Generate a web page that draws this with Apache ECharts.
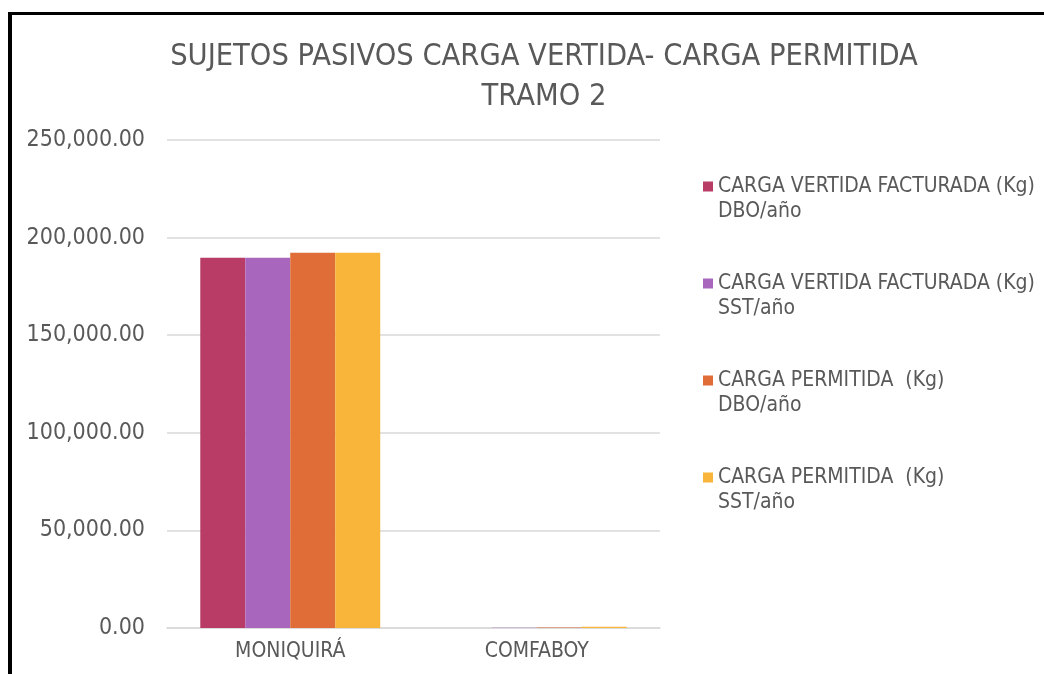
<!DOCTYPE html>
<html>
<head>
<meta charset="utf-8">
<script src="https://cdn.jsdelivr.net/npm/echarts@6/dist/echarts.min.js"></script>
<style>
  html, body { margin: 0; padding: 0; background: #fff; }
  #chart { width: 1044px; height: 674px; }
  #frame { position: absolute; left: 8px; top: 12px; width: 1100px; height: 700px; border-left: 4px solid #000; border-top: 3px solid #000; pointer-events: none; }
</style>
</head>
<body>
<div id="chart"></div>
<div id="frame"></div>
<script>
// categorias y valores
const categories = ['MONIQUIRÁ', 'COMFABOY'];
const seriesNames = [
  'CARGA VERTIDA FACTURADA (Kg)\nDBO/año',
  'CARGA VERTIDA FACTURADA (Kg)\nSST/año',
  'CARGA PERMITIDA  (Kg)\nDBO/año',
  'CARGA PERMITIDA  (Kg)\nSST/año'
];
const vertidaDBO = [189700, 60];
const vertidaSST = [189700, 80];
const permitidaDBO = [192300, 300];
const permitidaSST = [192300, 600];
const colors = ['#b83c65', '#a966bd', '#e06d37', '#f8b53a'];

var myChart = echarts.init(document.getElementById('chart'));
var font = 'DejaVu Sans Condensed';
var values = [vertidaDBO, vertidaSST, permitidaDBO, permitidaSST];

var option = {
  animation: false,
  color: colors,
  title: {
    text: 'SUJETOS PASIVOS CARGA VERTIDA- CARGA PERMITIDA\nTRAMO 2',
    left: 539,
    top: 32,
    textAlign: 'center',
    textStyle: { fontFamily: font, fontSize: 30.5, fontWeight: 'normal', color: '#595959', lineHeight: 40 }
  },
  legend: {
    orient: 'vertical',
    left: 703,
    top: 149,
    padding: 0,
    itemWidth: 10,
    itemHeight: 10,
    itemGap: 22,
    icon: 'rect',
    formatter: function (name) { return ' \n' + name; },
    textStyle: { fontFamily: font, fontSize: 21, color: '#595959', lineHeight: 25 }
  },
  grid: { left: 167, right: 384, top: 140, bottom: 46, containLabel: false },
  xAxis: {
    type: 'category',
    data: categories,
    axisLine: { lineStyle: { color: '#d9d9d9', width: 1.5 } },
    axisTick: { show: false },
    axisLabel: { fontFamily: font, fontSize: 21, color: '#595959', margin: 13 }
  },
  yAxis: {
    type: 'value',
    min: 0,
    max: 250000,
    interval: 50000,
    axisLine: { show: false },
    axisTick: { show: false },
    splitLine: { lineStyle: { color: '#d9d9d9', width: 1.5 } },
    axisLabel: {
      fontFamily: font, fontSize: 23, color: '#595959', margin: 22,
      formatter: function (v) {
        return v.toLocaleString('en-US', { minimumFractionDigits: 2, maximumFractionDigits: 2 });
      }
    }
  },
  series: seriesNames.map(function (n, i) {
    return {
      name: n,
      type: 'bar',
      data: values[i],
      barGap: '0%',
      barCategoryGap: '27%'
    };
  })
};
option && myChart.setOption(option);
</script>
</body>
</html>
